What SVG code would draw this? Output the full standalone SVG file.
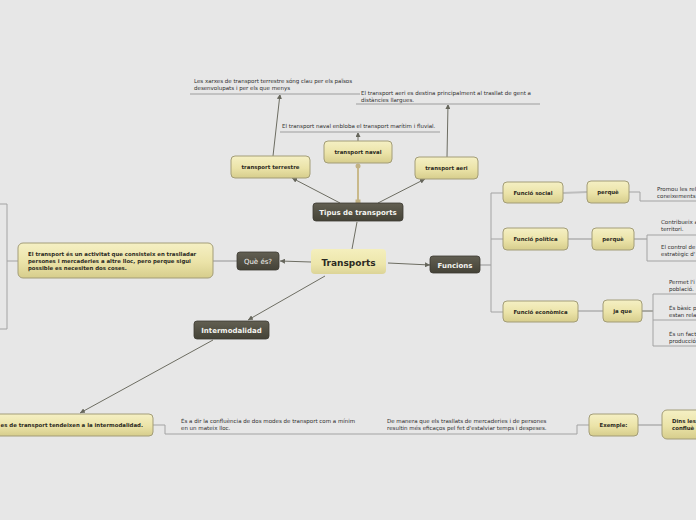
<svg xmlns="http://www.w3.org/2000/svg" width="696" height="520" viewBox="0 0 696 520">
<defs>
<linearGradient id="yg" x1="0" y1="0" x2="0" y2="1">
<stop offset="0" stop-color="#f5f0c4"/><stop offset="0.55" stop-color="#ebe3a8"/><stop offset="1" stop-color="#d6cd8c"/>
</linearGradient>
<linearGradient id="tg" x1="0" y1="0" x2="0" y2="1">
<stop offset="0" stop-color="#f4efbd"/><stop offset="0.6" stop-color="#ede6ab"/><stop offset="1" stop-color="#dcd497"/>
</linearGradient>
<linearGradient id="dg" x1="0" y1="0" x2="0" y2="1">
<stop offset="0" stop-color="#625f52"/><stop offset="1" stop-color="#444237"/>
</linearGradient>
<marker id="ah" viewBox="0 0 10 10" refX="10" refY="5" markerWidth="5" markerHeight="5" orient="auto" markerUnits="userSpaceOnUse">
<path d="M0,0 L10,5 L0,10 z" fill="#66665c"/>
</marker>
<style>
.yb{fill:url(#yg);stroke:#a39d78;stroke-width:1}
.db{fill:url(#dg);stroke:#3c3a32;stroke-width:0.8}
.lbl{font-family:"DejaVu Sans",Verdana,sans-serif;font-weight:bold;font-size:5.4px;fill:#2b2a22;text-anchor:middle}
.wl{font-family:"DejaVu Sans",Verdana,sans-serif;font-weight:bold;font-size:7px;fill:#f4f4f0;text-anchor:middle}
.wn{font-family:"DejaVu Sans",Verdana,sans-serif;font-weight:normal;font-size:7px;fill:#f4f4f0;text-anchor:middle}
.sm{font-family:"DejaVu Sans",Verdana,sans-serif;font-size:5.5px;fill:#2e2e2e}
.bt{font-family:"DejaVu Sans",Verdana,sans-serif;font-weight:bold;font-size:5.4px;fill:#2b2a22}
.arr{stroke:#6d6d62;stroke-width:1;fill:none;marker-end:url(#ah)}
.ln{stroke:#6d6d62;stroke-width:1;fill:none}
.ul{stroke:#c2c2c2;stroke-width:2;fill:none}
.br{stroke:#a3a3a3;stroke-width:1;fill:none}
.tk{stroke:#bdbdbd;stroke-width:2;fill:none}
</style>
</defs>
<rect width="696" height="520" fill="#e7e7e7"/>

<g id="connectors">
<line class="arr" x1="273" y1="156" x2="280" y2="94"/>
<line class="arr" x1="358" y1="141" x2="358" y2="132"/>
<line class="arr" x1="447" y1="157" x2="448" y2="104"/>
<line class="arr" x1="340" y1="203" x2="292" y2="178"/>
<line class="arr" x1="378" y1="203" x2="425" y2="179"/>
<line x1="358" y1="202" x2="358" y2="166" stroke="#c9b98a" stroke-width="2"/>
<rect x="355.5" y="199.5" width="5" height="5" fill="#c2b284"/>
<circle cx="358" cy="166" r="2.5" fill="#c2b284"/>
<line class="ln" x1="352" y1="249" x2="357" y2="222"/>
<line class="arr" x1="388" y1="263" x2="430" y2="265"/>
<line class="arr" x1="311" y1="262" x2="280" y2="261"/>
<line class="arr" x1="325" y1="276" x2="248" y2="320"/>
<line class="arr" x1="213" y1="340" x2="80" y2="413"/>
<line class="ul" x1="190" y1="94" x2="360" y2="94"/>
<line class="ul" x1="356" y1="104" x2="540" y2="104"/>
<line class="ul" x1="280" y1="132" x2="440" y2="132"/>
<line class="tk" x1="213" y1="261" x2="237" y2="261"/>
<polyline class="br" points="18,261 7,261"/>
<polyline class="br" points="0,204 7,204 7,329 0,329"/>
<line class="tk" x1="480" y1="265" x2="491" y2="265"/>
<line class="br" x1="491" y1="193" x2="491" y2="312"/>
<line class="br" x1="491" y1="193" x2="503" y2="193"/>
<line class="br" x1="491" y1="239" x2="503" y2="239"/>
<line class="br" x1="491" y1="312" x2="503" y2="312"/>
<line class="tk" x1="563" y1="193" x2="587" y2="192"/>
<line class="tk" x1="568" y1="239" x2="592" y2="239"/>
<line class="tk" x1="578" y1="311" x2="603" y2="311"/>
<polyline class="br" points="629,192 640,192 640,201 696,201"/>
<line class="tk" x1="634" y1="239" x2="647" y2="239"/>
<line class="br" x1="647" y1="235" x2="647" y2="261"/>
<line class="br" x1="647" y1="235" x2="696" y2="235"/>
<line class="br" x1="647" y1="261" x2="696" y2="261"/>
<line class="ln" x1="642" y1="311" x2="653" y2="311"/>
<line class="br" x1="653" y1="294" x2="653" y2="346"/>
<line class="br" x1="653" y1="294" x2="696" y2="294"/>
<line class="br" x1="653" y1="320" x2="696" y2="320"/>
<line class="br" x1="653" y1="346" x2="696" y2="346"/>
<polyline class="br" points="153,425 165,425 165,434 577,434 577,425 589,425"/>
<line class="tk" x1="638" y1="425" x2="662" y2="425"/>
</g>

<g id="n-transports"><rect x="311" y="249" width="75" height="25" rx="4" fill="url(#tg)"/><text x="348.5" y="265.5" font-family="DejaVu Sans,Verdana,sans-serif" font-weight="bold" font-size="9" fill="#2b2a22" text-anchor="middle">Transports</text></g>
<g id="n-tipus"><rect class="db" x="313" y="203" width="90" height="18" rx="3"/><text class="wl" x="358" y="214.5">Tipus de transports</text></g>
<g id="n-funcions"><rect class="db" x="430" y="256" width="50" height="17" rx="3"/><text class="wl" x="455" y="267.5">Funcions</text></g>
<g id="n-queés"><rect class="db" x="237" y="252" width="42" height="18" rx="3"/><text class="wn" x="258" y="263.5">Què és?</text></g>
<g id="n-intermodalidad"><rect class="db" x="194" y="321" width="75" height="18" rx="3"/><text class="wl" x="231.5" y="332.5">Intermodalidad</text></g>
<g id="n-terrestre"><rect class="yb" x="231" y="156" width="79" height="22" rx="4"/><text class="lbl" x="270.5" y="169">transport terrestre</text></g>
<g id="n-naval"><rect class="yb" x="324" y="141" width="68" height="22" rx="4"/><text class="lbl" x="358" y="154">transport naval</text></g>
<g id="n-aeri"><rect class="yb" x="415" y="157" width="63" height="22" rx="4"/><text class="lbl" x="446.5" y="170">transport aeri</text></g>
<g id="t-terrestre"><text class="sm" x="194" y="83">Les xarxes de transport terrestre sóng clau per els països</text><text class="sm" x="194" y="90">desenvolupats  i per els que menys</text></g>
<g id="t-aeri"><text class="sm" x="361" y="95">El transport aeri es destina principalment al trasllat de gent a</text><text class="sm" x="361" y="101.5">distàncies llargues.</text></g>
<g id="t-naval"><text class="sm" x="282" y="128">El transport naval enbloba el transport marítim i fluvial.</text></g>
<g id="n-definicio"><rect class="yb" x="18" y="243" width="195" height="35" rx="5"/><text class="bt" x="28" y="256">El transport és un activitat que consisteix en traslladar</text><text class="bt" x="28" y="263">persones i mercaderies a altre lloc, pero perque sigui</text><text class="bt" x="28" y="270">possible es necesiten dos coses.</text></g>
<g id="n-social"><rect class="yb" x="503" y="182" width="60" height="21" rx="4"/><text class="lbl" x="533" y="194.7">Funció social</text></g>
<g id="n-politica"><rect class="yb" x="503" y="228" width="65" height="22" rx="4"/><text class="lbl" x="535.5" y="241">Funció política</text></g>
<g id="n-economica"><rect class="yb" x="503" y="301" width="75" height="21" rx="4"/><text class="lbl" x="540.5" y="313.5">Funció econòmica</text></g>
<g id="n-perque1"><rect class="yb" x="587" y="181" width="42" height="22" rx="4"/><text class="lbl" x="608" y="194">perquè</text></g>
<g id="n-perque2"><rect class="yb" x="592" y="228" width="42" height="22" rx="4"/><text class="lbl" x="613" y="241">perquè</text></g>
<g id="n-jaque"><rect class="yb" x="603" y="300" width="39" height="22" rx="4"/><text class="lbl" x="622.5" y="313">ja que</text></g>
<g id="t-social"><text class="sm" x="657" y="191">Promou les rel</text><text class="sm" x="657" y="198">coneixements</text></g>
<g id="t-politica1"><text class="sm" x="661" y="224">Contribueix a</text><text class="sm" x="661" y="231">territori.</text></g>
<g id="t-politica2"><text class="sm" x="661" y="249">El control de</text><text class="sm" x="661" y="256">estratègic d'</text></g>
<g id="t-econ1"><text class="sm" x="669" y="284">Permet l'i</text><text class="sm" x="669" y="290.5">població.</text></g>
<g id="t-econ2"><text class="sm" x="669" y="310">És bàsic p</text><text class="sm" x="669" y="317">estan rela</text></g>
<g id="t-econ3"><text class="sm" x="669" y="336">És un fact</text><text class="sm" x="669" y="343">producció</text></g>
<g id="n-modes"><rect class="yb" x="-10" y="414" width="163" height="22" rx="4"/><text class="bt" x="143" y="427" text-anchor="end">es de transport tendeixen a la intermodalidad.</text></g>
<g id="t-esadir"><text class="sm" x="181" y="423">És a dir la confluència de dos modes de transport com a mínim</text><text class="sm" x="181" y="430">en un  mateix lloc.</text></g>
<g id="t-demanera"><text class="sm" x="387" y="423">De manera que els trasllats de mercaderies i de persones</text><text class="sm" x="387" y="430">resultin  més eficaços pel fet d'estalviar temps i despeses.</text></g>
<g id="n-exemple"><rect class="yb" x="589" y="414" width="49" height="22" rx="4"/><text class="lbl" x="613.5" y="427">Exemple:</text></g>
<g id="n-dins"><rect class="yb" x="662" y="410" width="50" height="29" rx="5"/><text class="bt" x="672" y="423">Dins les</text><text class="bt" x="672" y="430">confluè</text></g>
</svg>
